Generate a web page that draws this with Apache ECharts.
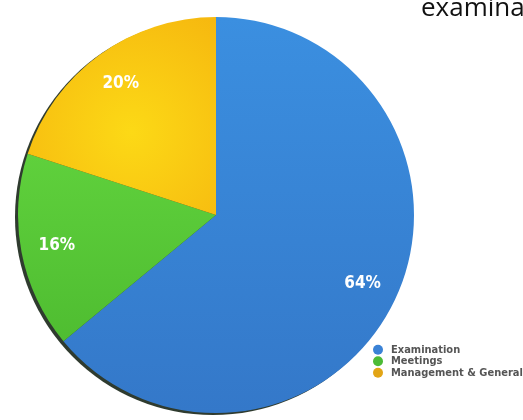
<!DOCTYPE html>
<html>
<head>
<meta charset="utf-8">
<script src="https://cdn.jsdelivr.net/npm/echarts@6/dist/echarts.min.js"></script>
<style>html,body{margin:0;padding:0;background:#fff;}#c{width:523px;height:420px;}</style>
</head>
<body>
<div id="c"></div>
<script>
var categories = ['Examination', 'Meetings', 'Management & General'];
var values = [64, 16, 20];
var titleText = 'examina';

var colors = [
  new echarts.graphic.LinearGradient(0, 0, 0, 1, [{offset: 0, color: '#3b8fe0'}, {offset: 1, color: '#3478c9'}]),
  new echarts.graphic.LinearGradient(0, 0, 0, 1, [{offset: 0, color: '#5fd03c'}, {offset: 1, color: '#4fbd31'}]),
  new echarts.graphic.RadialGradient(0.55, 0.58, 0.75, [{offset: 0, color: '#fcd916'}, {offset: 1, color: '#f6b80f'}])
];
var legendColors = ['#3a82d6', '#4cbb36', '#e2a516'];
var narrow = "'Liberation Sans Narrow', 'DejaVu Sans Condensed', 'DejaVu Sans', sans-serif";

var data = categories.map(function (c, i) {
  return { name: c, value: values[i], itemStyle: { color: colors[i] } };
});
var labelData = categories.map(function (c, i) {
  return { name: c, value: values[i] };
});

var chart = echarts.init(document.getElementById('c'));
chart.setOption({
  backgroundColor: '#ffffff',
  animation: false,
  title: {
    text: titleText, left: 416, top: -9,
    textStyle: { fontFamily: 'Open Sans', fontSize: 26, fontWeight: 'normal', color: '#111' }
  },
  legend: {
    orient: 'vertical', left: 373, top: 344, itemGap: 0, padding: 0,
    icon: 'circle', itemWidth: 10, itemHeight: 10,
    data: categories.map(function (c, i) { return { name: c, itemStyle: { color: legendColors[i] } }; }),
    textStyle: { fontFamily: narrow, fontWeight: 'bold', fontSize: 11, lineHeight: 11.5, color: '#555', padding: [0, 0, 0, 3] },
    selectedMode: false
  },
  series: [
    {
      type: 'pie', silent: true, center: [213, 217], radius: 198, startAngle: 90,
      data: [{ name: 'shadow', value: 1, itemStyle: { color: 'rgba(10,25,10,0.85)' } }],
      label: { show: false }, labelLine: { show: false }, legendHoverLink: false, z: 1
    },
    {
      type: 'pie', center: [216, 215], radius: 198, startAngle: 90, clockwise: true,
      data: data, label: { show: false }, labelLine: { show: false }, z: 2
    },
    {
      type: 'pie', silent: true, center: [216, 215], radius: [120, 198], startAngle: 90, clockwise: true,
      data: labelData, itemStyle: { color: 'rgba(0,0,0,0)' }, z: 3,
      label: {
        show: true, position: 'inside', formatter: '{c}%',
        fontFamily: narrow, fontWeight: 'bold', fontSize: 17, color: '#fff'
      },
      labelLine: { show: false }
    }
  ]
});
</script>
</body>
</html>
